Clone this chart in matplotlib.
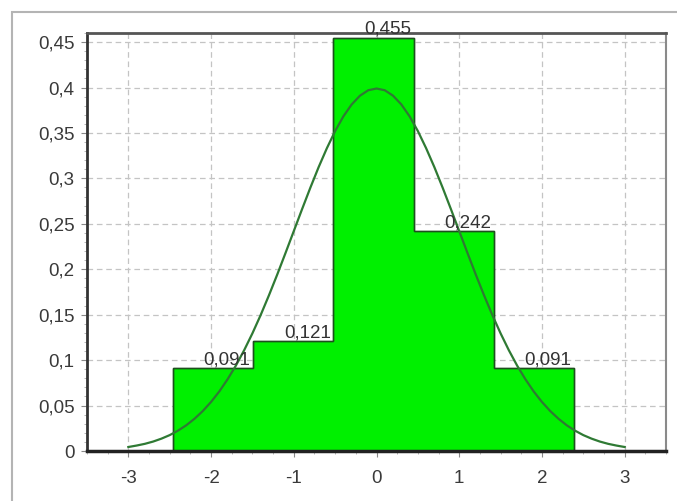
import matplotlib
matplotlib.use("Agg")
import matplotlib.pyplot as plt
from matplotlib.patches import Rectangle
from matplotlib.ticker import MultipleLocator, FuncFormatter

# Datos del histograma (frecuencias relativas)
bordes = [-2.46, -1.49, -0.52, 0.45, 1.42, 2.39]
frecuencias = [0.091, 0.121, 0.455, 0.242, 0.091]
etiquetas = ["0,091", "0,121", "0,455", "0,242", "0,091"]

# Curva normal
curva_x = [-3.0, -2.9, -2.8, -2.7, -2.6, -2.5, -2.4, -2.3, -2.2, -2.1,
           -2.0, -1.9, -1.8, -1.7, -1.6, -1.5, -1.4, -1.3, -1.2, -1.1,
           -1.0, -0.9, -0.8, -0.7, -0.6, -0.5, -0.4, -0.3, -0.2, -0.1,
           0.0, 0.1, 0.2, 0.3, 0.4, 0.5, 0.6, 0.7, 0.8, 0.9,
           1.0, 1.1, 1.2, 1.3, 1.4, 1.5, 1.6, 1.7, 1.8, 1.9,
           2.0, 2.1, 2.2, 2.3, 2.4, 2.5, 2.6, 2.7, 2.8, 2.9, 3.0]
curva_y = [0.0044, 0.0060, 0.0079, 0.0104, 0.0136, 0.0175, 0.0224, 0.0283, 0.0355, 0.0440,
           0.0540, 0.0656, 0.0790, 0.0940, 0.1109, 0.1295, 0.1497, 0.1714, 0.1942, 0.2179,
           0.2420, 0.2661, 0.2897, 0.3123, 0.3332, 0.3521, 0.3683, 0.3814, 0.3910, 0.3970,
           0.3989, 0.3970, 0.3910, 0.3814, 0.3683, 0.3521, 0.3332, 0.3123, 0.2897, 0.2661,
           0.2420, 0.2179, 0.1942, 0.1714, 0.1497, 0.1295, 0.1109, 0.0940, 0.0790, 0.0656,
           0.0540, 0.0440, 0.0355, 0.0283, 0.0224, 0.0175, 0.0136, 0.0104, 0.0079, 0.0060, 0.0044]

plt.rcParams['font.family'] = ['Liberation Sans', 'DejaVu Sans']

fig = plt.figure(figsize=(6.77, 5.01), dpi=100)
# marco exterior gris claro
fig.patches.append(Rectangle((12 / 677, -0.1), 1.2, 1.1 - 12 / 501,
                             transform=fig.transFigure, fill=False,
                             edgecolor="#b4b4b4", linewidth=1.5))
ax = fig.add_axes([87 / 677, 50 / 501, 579 / 677, 418 / 501])

# histograma como contorno escalonado relleno
ax.stairs(frecuencias, bordes, fill=True, facecolor="#00f000",
          edgecolor="#1f4f1f", linewidth=1, zorder=2)
ax.stairs(frecuencias, bordes, fill=False, color="#1f4f1f",
          linewidth=1, baseline=0, zorder=2)

centros = [(bordes[i] + bordes[i + 1]) / 2 for i in range(len(frecuencias))]
for c, f, t in zip(centros, frecuencias, etiquetas):
    ax.annotate(t, (c, f), xytext=(10, 0), textcoords="offset points",
                ha="center", va="bottom", fontsize=13.5, color="#333333", zorder=4)

ax.plot(curva_x, curva_y, color="#2f7a34", linewidth=1.6, zorder=3)

ax.set_xlim(-3.5, 3.5)
ax.set_ylim(0, 0.46)
ax.xaxis.set_major_locator(MultipleLocator(1))
ax.xaxis.set_minor_locator(MultipleLocator(0.25))
ax.yaxis.set_major_locator(MultipleLocator(0.05))
ax.yaxis.set_minor_locator(MultipleLocator(0.01))

def coma(v, pos):
    s = ("%.2f" % v).rstrip("0").rstrip(".")
    if s == "-0":
        s = "0"
    return s.replace(".", ",")

ax.yaxis.set_major_formatter(FuncFormatter(coma))
ax.xaxis.set_major_formatter(FuncFormatter(lambda v, p: "%d" % round(v)))

ax.grid(True, which="major", color="#c4c4c4", linestyle=(0, (4.5, 3)), linewidth=0.9, zorder=1)
ax.set_axisbelow(True)
ax.tick_params(which="major", length=4, color="#888888", labelsize=13.5,
               labelcolor="#3a3a3a")
ax.tick_params(axis="x", which="major", pad=10)
ax.tick_params(axis="y", which="major", pad=5)
ax.tick_params(which="minor", length=2.5, color="#aaaaaa")

ax.spines["left"].set_color("#333333")
ax.spines["left"].set_linewidth(2)
ax.spines["top"].set_color("#555555")
ax.spines["top"].set_linewidth(2)
ax.spines["right"].set_color("#8a8a8a")
ax.spines["right"].set_linewidth(1.5)
ax.spines["bottom"].set_color("#222222")
ax.spines["bottom"].set_linewidth(2.5)

fig.savefig("out.png", dpi=100)
